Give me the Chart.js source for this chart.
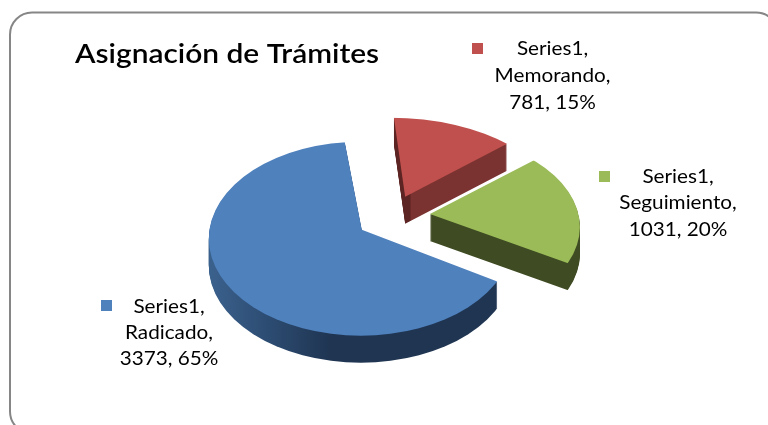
<!DOCTYPE html>
<html><head><meta charset="utf-8">
<style>html,body{margin:0;padding:0;background:#fff}#w{width:768px;height:425px;position:relative;overflow:hidden}canvas{filter:blur(0.4px)}</style>
<script src="https://cdn.jsdelivr.net/npm/chart.js@4/dist/chart.umd.min.js"></script>
</head><body><div id="w"><canvas id="c" width="768" height="425"></canvas></div>
<script>
const chartTitle = 'Asignación de Trámites';
const seriesName = 'Series1';
const categories = ['Memorando', 'Seguimiento', 'Radicado'];
const seriesValues = [781, 1031, 3373];
const percentLabels = ['15%', '20%', '65%'];
const sliceColors = ['#c0504d', '#9bbb59', '#4f81bd'];
const sideStops = [
  [[0, '#5c2422'], [0.085, '#5c2422'], [0.095, '#7b3331'], [1, '#7b3331']],
  [[0, '#3f4b22'], [1, '#3f4b22']],
  [[0, '#44709f'], [0.3, '#2e4e75'], [0.52, '#1f3552'], [1, '#1f3552']]
];
const explodeOffsets = [60, 122, 178];
const perspectiveShiftY = [-10.5, 0, 0];
const flatten = 0.6;
const depth = 27;
const drawnRadius = 200;
const ellipseShapes = [
  {dx: -15, dy: 16, rx: 170, ry: 95},
  {dx: 0, dy: 13, rx: 150, ry: 92},
  {dx: -1, dy: 9, rx: 152, ry: 97}
];
const labelBoxes = [
  {mx: 472, my: 43, cx: 552.5, ys: [49, 76, 103]},
  {mx: 599, my: 171, cx: 678, ys: [177, 203, 230]},
  {mx: 101, my: 300, cx: 169, ys: [307, 333, 359]}
];

const stretched = (ctx, text, x, y, sx) => {
  ctx.save();
  ctx.translate(x, y);
  ctx.scale(sx, 1);
  ctx.fillText(text, 0, 0);
  ctx.restore();
};

const pie3d = {
  id: 'pie3d',
  beforeDraw(chart) {
    const ctx = chart.ctx;
    ctx.save();
    ctx.fillStyle = '#fff';
    ctx.fillRect(0, 0, 768, 425);
    ctx.strokeStyle = '#868686';
    ctx.lineWidth = 2;
    ctx.beginPath();
    ctx.roundRect(10, 12.5, 768, 421, 22);
    ctx.stroke();
    ctx.restore();
  },
  beforeDatasetsDraw(chart) {
    const ctx = chart.ctx;
    const arcs = chart.getDatasetMeta(0).data;
    arcs.forEach((arc, i) => {
      const mid = (arc.startAngle + arc.endAngle) / 2;
      const k = drawnRadius / arc.outerRadius;
      const off = (arc.options.offset || 0) / 4 / k;
      const ax = arc.x + Math.cos(mid) * off * k;
      const ay = arc.y + Math.sin(mid) * off * k * flatten + perspectiveShiftY[i];
      const shape = ellipseShapes[i];
      const paint = (d, fill) => {
        ctx.save();
        ctx.beginPath();
        ctx.ellipse(ax + shape.dx, ay + shape.dy + d, shape.rx, shape.ry, 0, 0, Math.PI * 2);
        ctx.clip();
        ctx.translate(arc.x, arc.y + d + perspectiveShiftY[i]);
        ctx.scale(k, k * flatten);
        ctx.translate(-arc.x, -arc.y);
        const saved = arc.options;
        arc.options = Object.assign({}, saved, {offset: saved.offset / k, backgroundColor: fill, borderWidth: 0});
        arc.draw(ctx);
        arc.options = saved;
        ctx.restore();
      };
      const toLocal = x => arc.x + (x - arc.x) / k;
      const x0 = ax - 155 * (i === 2 ? 1 : 0.1);
      const x1 = ax + 155;
      const g = ctx.createLinearGradient(toLocal(x0), 0, toLocal(x1), 0);
      sideStops[i].forEach(s => g.addColorStop(s[0], s[1]));
      for (let d = depth; d >= 1; d--) paint(d, g);
      paint(0, sliceColors[i]);
    });
    return false;
  },
  afterDraw(chart) {
    const ctx = chart.ctx;
    ctx.save();
    ctx.fillStyle = '#000';
    ctx.textBaseline = 'middle';
    ctx.textAlign = 'left';
    ctx.font = '600 26px Lato';
    stretched(ctx, chartTitle, 75, 55, 1.15);
    ctx.font = '19px Lato';
    ctx.textAlign = 'center';
    categories.forEach((name, i) => {
      const b = labelBoxes[i];
      ctx.fillStyle = sliceColors[i];
      ctx.fillRect(b.mx, b.my, 11, 11);
      ctx.fillStyle = '#000';
      const lines = [seriesName + ',', name + ',', seriesValues[i] + ', ' + percentLabels[i]];
      lines.forEach((t, j) => stretched(ctx, t, b.cx, b.ys[j], 1.09));
    });
    ctx.restore();
  }
};

new Chart(document.getElementById('c'), {
  type: 'pie',
  data: {
    labels: categories,
    datasets: [{
      data: seriesValues,
      backgroundColor: sliceColors,
      offset: explodeOffsets,
      borderWidth: 0
    }]
  },
  options: {
    responsive: false,
    animation: false,
    rotation: -5,
    layout: {padding: {left: 31, right: 0, top: 6, bottom: 0}},
    plugins: {legend: {display: false}, title: {display: false}, tooltip: {enabled: false}}
  },
  plugins: [pie3d]
});
</script></body></html>
